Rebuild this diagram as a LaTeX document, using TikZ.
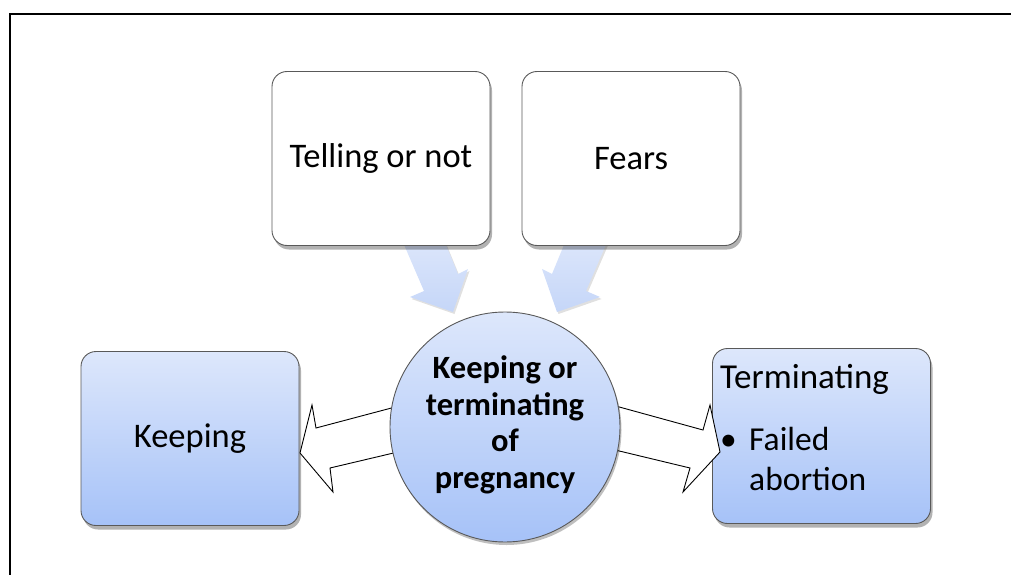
\documentclass[tikz,border=0pt]{standalone}
\usepackage{fontspec}
\setmainfont{Carlito}
\usetikzlibrary{shadows}
\definecolor{bdr}{HTML}{595959}
\definecolor{btop}{HTML}{DDE7FB}
\definecolor{bbot}{HTML}{A6C2F8}
\definecolor{atop}{HTML}{DCE6FB}
\definecolor{abot}{HTML}{C5D6F8}
\begin{document}
\begin{tikzpicture}[x=1pt,y=-1pt,
  box/.style={draw=bdr, line width=0.9pt, rounded corners=15pt, inner sep=0pt,
    minimum width=218pt, minimum height=174pt,
    drop shadow={shadow xshift=2pt, shadow yshift=-4pt, opacity=0.3, fill=black}},
  bluebox/.style={box, top color=btop, bottom color=bbot},
  whitebox/.style={box, fill=white},
  bigtext/.style={font=\fontsize{34.5}{40}\selectfont},
  midtext/.style={font=\fontsize{33.5}{38}\selectfont},
  downarrow/.style={top color=atop, bottom color=abot,
    drop shadow={shadow xshift=1.5pt, shadow yshift=-2pt, opacity=0.12, fill=black}},
  outarrow/.style={draw=black, fill=white, line width=0.9pt, line join=miter}
]
\useasboundingbox (0,0) rectangle (1011,575);
\draw[line width=2pt] (10,575) -- (10,14) -- (1011,14);

% blue down arrows (behind boxes)
\path[downarrow] (402,240) -- (444,240) -- (458,274) -- (468,269) -- (453,312) -- (410,297) -- (424,291) -- cycle;
\path[downarrow] (608,240) -- (566,240) -- (552,274) -- (542,269) -- (557,312) -- (600,297) -- (586,291) -- cycle;

% top boxes
\node[whitebox, bigtext] (tell) at (381,158.5) {Telling or not};
\node[whitebox, bigtext] (fears) at (631,158.5) {Fears};

% side boxes
\node[bluebox] (keep) at (190,438.5) {};
\node[font=\fontsize{34.5}{40}\selectfont, inner sep=0pt] (keept) at (keep.center) {Keeping};
\node[bluebox, minimum height=175pt] (term) at (821.5,436) {};
\node[font=\fontsize{35}{40}\selectfont, anchor=base west, inner sep=0pt] (termt) at (720,388) {Terminating};
\node[midtext, anchor=base west, inner sep=0pt] (bul) at (720,450) {•};
\node[midtext, anchor=base west, inner sep=0pt] (fail) at (749,450) {Failed};
\node[midtext, anchor=base west, inner sep=0pt] (abort) at (749,490) {abortion};

% white outline arrows
\draw[outarrow] (399,406) -- (316,428) -- (312,405) -- (300,453) -- (333,492) -- (330,468) -- (402,451) -- cycle;
\draw[outarrow] (612,405) -- (703,430) -- (710,405) -- (720,452) -- (683,492) -- (690,468) -- (611,449) -- cycle;

% centre circle
\node[circle, draw=bdr, line width=0.9pt, top color=btop, bottom color=bbot,
  minimum size=230pt, inner sep=0pt,
  drop shadow={shadow xshift=1.5pt, shadow yshift=-3pt, opacity=0.25, fill=black}] (c) at (505,427) {};
\node[align=center, font=\bfseries\fontsize{32.5}{36.5}\selectfont, inner sep=0pt] (ct) at (505,425) {Keeping or\\terminating\\of\\pregnancy};
\end{tikzpicture}
\end{document}
